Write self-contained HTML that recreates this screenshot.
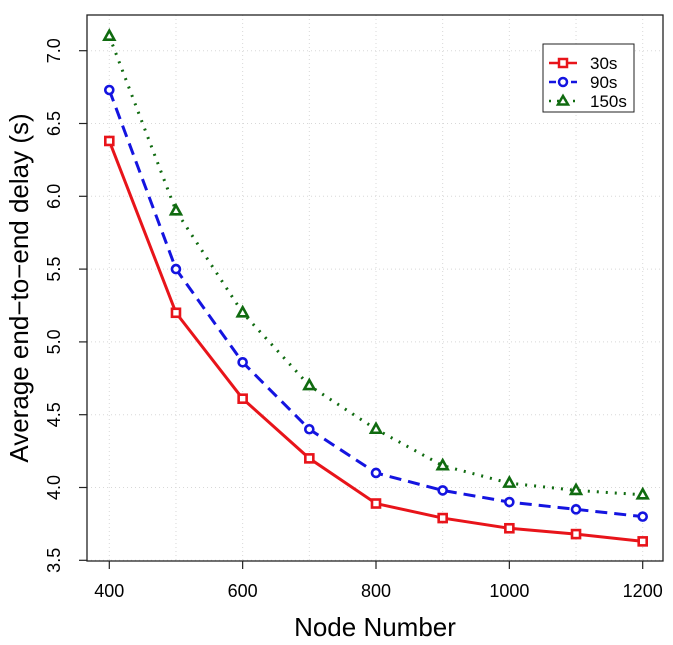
<!DOCTYPE html>
<html><head><meta charset="utf-8"><style>
body{margin:0;background:#fff}
svg{display:block;font-family:"Liberation Sans",sans-serif}
</style></head><body>
<svg id="chart" width="673" height="645" viewBox="0 0 673 645">
<g id="grid"></g>
<g id="axes"></g>
<g id="series"></g>
<rect x="87" y="15" width="576" height="546" fill="none" stroke="#222" stroke-width="1.3"/>
<text x="375" y="636" font-size="26" text-anchor="middle">Node Number</text>
<text transform="translate(28,288) rotate(-90)" font-size="26" text-anchor="middle">Average end−to−end delay (s)</text>
<g>
<rect x="543" y="44" width="91" height="68" fill="#fff" stroke="#222" stroke-width="1"/>
<g>
<line x1="549" y1="63" x2="577" y2="63" stroke="#e8141a" stroke-width="2.5"/>
<rect x="559" y="59" width="8" height="8" fill="#fff" stroke="#e8141a" stroke-width="2.5"/>
<text x="590" y="69" font-size="17">30s</text></g>
<g>
<line x1="549" y1="82" x2="577" y2="82" stroke="#1414e0" stroke-width="2.5" stroke-dasharray="7,4"/>
<circle cx="563" cy="82" r="4" fill="#fff" stroke="#1414e0" stroke-width="2.5"/>
<text x="590" y="88" font-size="17">90s</text></g>
<g>
<line x1="549" y1="101" x2="577" y2="101" stroke="#106b10" stroke-width="2.5" stroke-dasharray="2,6"/>
<polygon points="563,96 568,104.5 558,104.5" fill="#fff" stroke="#106b10" stroke-width="2.5"/>
<text x="590" y="107" font-size="17">150s</text></g>
</g>
</svg>
<script>
const nodes=[400,500,600,700,800,900,1000,1100,1200];
const s30=[6.38,5.2,4.61,4.2,3.89,3.79,3.72,3.68,3.63];
const s90=[6.73,5.5,4.86,4.4,4.1,3.98,3.9,3.85,3.8];
const s150=[7.1,5.9,5.2,4.7,4.4,4.15,4.03,3.98,3.95];
const xTicks=[400,600,800,1000,1200];
const yTicks=[3.5,4.0,4.5,5.0,5.5,6.0,6.5,7.0];
const xGrid=[400,500,600,700,800,900,1000,1100,1200];
const NS="http://www.w3.org/2000/svg";
const X=v=>109.3+(v-400)*(533.4/800);
const Y=v=>560.3-(v-3.5)*(72.8/0.5);
function mk(t,a,p){const e=document.createElementNS(NS,t);for(const k in a)e.setAttribute(k,a[k]);p.appendChild(e);return e;}
const g=document.getElementById('grid'),ax=document.getElementById('axes'),sr=document.getElementById('series');
xGrid.forEach(v=>{const l=mk('line',{x1:X(v),x2:X(v),y1:15,y2:561,stroke:'#d8d8d8','stroke-dasharray':'1,3'},g);

});
yTicks.forEach(v=>{const l=mk('line',{x1:87,x2:663,y1:Y(v),y2:Y(v),stroke:'#d8d8d8','stroke-dasharray':'1,3'},g);

});
xTicks.forEach(v=>{const t=mk('line',{x1:X(v),x2:X(v),y1:561,y2:569,stroke:'#222','stroke-width':1.2},ax);


const tx=mk('text',{x:X(v),y:597,'font-size':18,'text-anchor':'middle'},ax);tx.textContent=v;

});
yTicks.forEach(v=>{const t=mk('line',{x1:79,x2:87,y1:Y(v),y2:Y(v),stroke:'#222','stroke-width':1.2},ax);


const tx=mk('text',{transform:`translate(60,${Y(v)}) rotate(-90)`,'font-size':18,'text-anchor':'middle'},ax);tx.textContent=v.toFixed(1);

});
function series(vals,color,dash,shape,name){
const pts=vals.map((v,i)=>[X(nodes[i]),Y(v)]);
const pl=mk('polyline',{points:pts.map(p=>p.join(',')).join(' '),fill:'none',stroke:color,'stroke-width':3,'stroke-dasharray':dash},sr);


pts.forEach(([x,y])=>{let m;
if(shape==='sq')m=mk('rect',{x:x-4,y:y-4,width:8,height:8,fill:'#fff',stroke:color,'stroke-width':2.6},sr);
else if(shape==='ci')m=mk('circle',{cx:x,cy:y,r:4,fill:'#fff',stroke:color,'stroke-width':2.6},sr);
else m=mk('polygon',{points:`${x},${y-5.5} ${x+5},${y+3.5} ${x-5},${y+3.5}`,fill:'#fff',stroke:color,'stroke-width':2.6},sr);

});}
series(s150,'#106b10','2,7','tr','series-150s');
series(s90,'#1414e0','12,7','ci','series-90s');
series(s30,'#e8141a','none','sq','series-30s');
</script>
</body></html>
